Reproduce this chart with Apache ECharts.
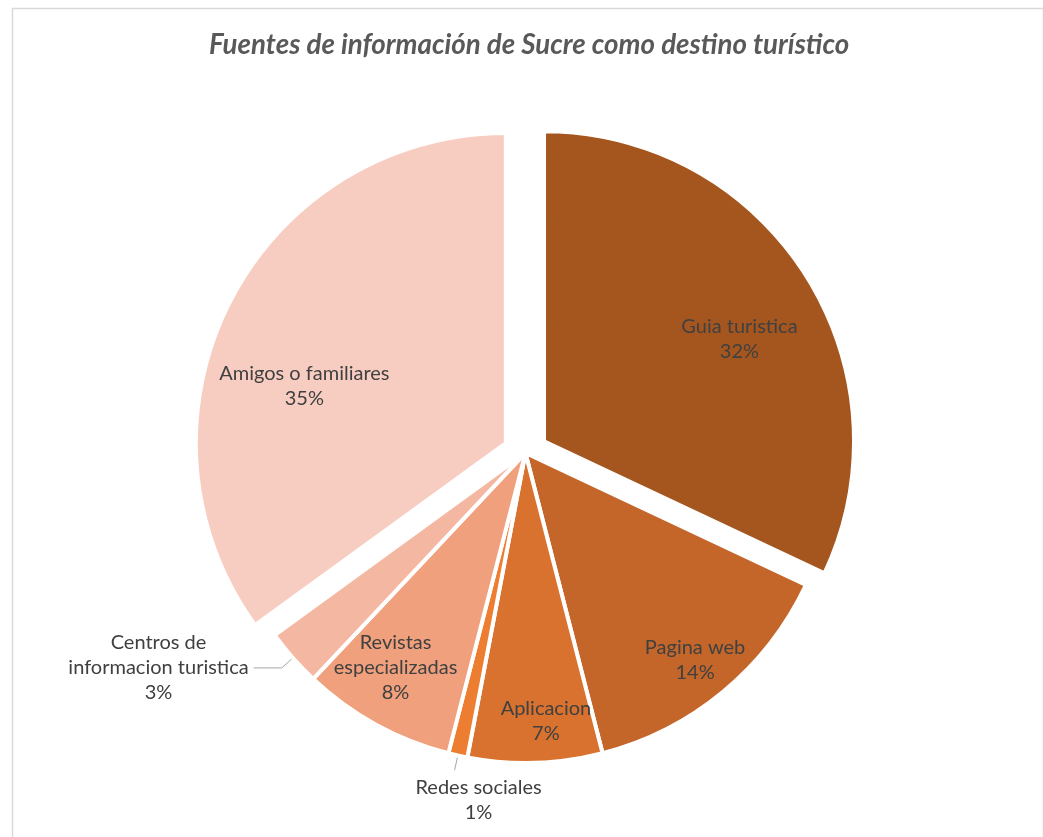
<!DOCTYPE html>
<html><head><meta charset="utf-8">
<script src="https://cdn.jsdelivr.net/npm/echarts@6/dist/echarts.min.js"></script>
<style>html,body{margin:0;padding:0;background:#fff}#c{width:1043px;height:837px}</style>
</head><body><div id="c"></div>
<script>
const categories = ['Guia turistica','Pagina web','Aplicacion','Redes sociales','Revistas especializadas','Centros de informacion turistica','Amigos o familiares'];
const labelNames = ['Guia turistica','Pagina web','Aplicacion','Redes sociales','Revistas\nespecializadas','Centros de\ninformacion turistica','Amigos o familiares'];
const values = [32, 14, 7, 1, 8, 3, 35];
const colors = ['#A5561F','#C4662A','#D9722E','#ED7D31','#F0A07C','#F4B8A2','#F8CDC1'];
const exploded = [true, false, false, false, false, false, true];
const outside = [false, false, false, true, false, true, false];
// inside label placement: [radius fraction, angle shift (deg)]
const labelPolar = [[0.706, 4.2], [0.854, 0.3], [0.857, -2.6], null, [0.80, 2.4], null, [0.67, -10.2]];
const labelNudgeY = [3, 0, 0, 0, 0, 0, 4];

const R = 310;
const total = values.reduce((a, b) => a + b, 0);
const midAngles = [];
let acc = 0;
values.forEach(v => { midAngles.push((acc + v / 2) / total * 360); acc += v; });
const rad = d => d * Math.PI / 180;

const data = categories.map((c, i) => {
  const item = {
    name: c, value: values[i], selected: exploded[i],
    itemStyle: { color: colors[i] }
  };
  if (outside[i]) {
    item.label = { position: 'outside', distanceToLabelLine: i === 3 ? 0 : 5 };
    item.labelLine = { show: true, length: 15, length2: i === 3 ? 0 : 28,
      lineStyle: { color: '#A6A6A6', width: 1 } };
  } else {
    item.label = { position: 'inside' };
    item.labelLine = { show: false };
  }
  return item;
});

const chart = echarts.init(document.getElementById('c'), null, { renderer: 'canvas' });
chart.setOption({
  backgroundColor: '#fff',
  animation: false,
  graphic: [{
    type: 'rect', left: 10, top: 6, silent: true,
    shape: { width: 1031, height: 900 },
    style: { fill: 'none', stroke: '#D9D9D9', lineWidth: 1.5 }
  }],
  title: {
    text: 'Fuentes de información de Sucre como destino turístico',
    left: '50.25%', textAlign: 'center', top: 26,
    textStyle: { fontFamily: 'Lato', fontStyle: 'italic', fontWeight: 'bold', fontSize: 27.7, color: '#595959' }
  },
  series: [{
    type: 'pie',
    center: ['50.38%', '54.12%'],
    radius: R,
    startAngle: 90,
    clockwise: true,
    avoidLabelOverlap: false,
    selectedMode: 'multiple',
    selectedOffset: 22,
    emphasis: { disabled: true },
    itemStyle: { borderColor: '#fff', borderWidth: 4 },
    select: { itemStyle: { borderColor: '#fff', borderWidth: 4 } },
    label: {
      fontFamily: 'Lato', fontSize: 20, color: '#404040', lineHeight: 25,
      formatter: p => labelNames[p.dataIndex] + '\n' + p.value + '%'
    },
    labelLayout: function (p) {
      const i = p.dataIndex;
      if (outside[i]) {
        if (i === 3) {
          return { align: 'center', verticalAlign: 'top', dx: 24, dy: 5 };
        }
        return { align: 'center', dx: -p.labelRect.width / 2 };
      }
      const lp = labelPolar[i];
      const m = rad(midAngles[i]);
      const a = rad(midAngles[i] + lp[1]);
      return {
        dx: R * (lp[0] * Math.sin(a) - 0.5 * Math.sin(m)),
        dy: -R * (lp[0] * Math.cos(a) - 0.5 * Math.cos(m)) + labelNudgeY[i]
      };
    },
    data: data
  }]
});
</script>
</body></html>
